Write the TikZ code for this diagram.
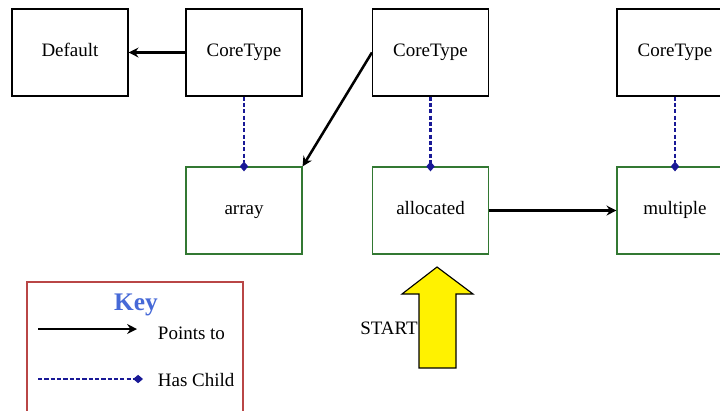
\documentclass[tikz,border=0pt]{standalone}
\usepackage{fontspec}
\setmainfont{Liberation Serif}
\usetikzlibrary{arrows.meta,positioning}
\definecolor{childblue}{RGB}{25,25,150}
\definecolor{boxgreen}{RGB}{50,120,50}
\definecolor{keyred}{RGB}{185,70,70}
\definecolor{keyblue}{RGB}{70,105,215}
\tikzset{
	typebox/.style={draw=black,fill=white,line width=0.8pt,minimum width=2.9cm,minimum height=2.175cm,
		text height=1.6ex,text depth=0.4ex,font=\fontsize{13.5}{16}\selectfont},
	kindbox/.style={typebox,draw=boxgreen},
	pointsto/.style={-{Stealth[width=7pt,length=7pt]},color=black,line width=1.8pt},
	haschild/.style={-{Diamond[width=6pt,length=7pt]},color=childblue,dash pattern=on 3pt off 1.5pt,line width=0.8pt,shorten >=-3.5pt},
	keytext/.style={font=\fontsize{13.5}{16}\selectfont,anchor=west}
}
\begin{document}
\begin{tikzpicture}[x=0.025cm,y=-0.025cm]
	\useasboundingbox (0,0) rectangle (720,410);
	%%%% core types
	\node[typebox] (def) at (70,52.5) {Default};
	\node[typebox] (ct1) at (244,52.5) {CoreType};
	\node[typebox] (ct2) at (430.5,52.5) {CoreType};
	\node[typebox] (ct3) at (675,52.5) {CoreType};
	
	%%%% children
	\node[kindbox] (arr) at (244,210.5) {array};
	\node[kindbox] (alloc) at (430.5,210.5) {allocated};
	\node[kindbox] (mult) at (675,210.5) {multiple};
	
	\draw[pointsto] (ct1) -- (def);
	\draw[pointsto] (ct2.west) -- (arr.north east);
	\draw[pointsto] (alloc) -- (mult);
	\draw[haschild] (ct1) -- (arr);
	\draw[haschild,line width=1.8pt] (ct2) -- (alloc);
	\draw[haschild] (ct3) -- (mult);
	
	%%%% start arrow
	\draw[fill=yellow,line width=0.8pt] (437,267) -- (473,294) -- (456,294) -- (456,368)
		-- (419,368) -- (419,294) -- (402,294) -- cycle;
	\node[font=\fontsize{13.5}{16}\selectfont,anchor=east,inner sep=0pt] (start) at (418,328) {START};
	
	%%%% key
	\node[draw=keyred,line width=0.8pt,minimum width=5.4cm,minimum height=3.5cm] (key) at (135,352) {};
	\node[font=\bfseries\fontsize{18}{20}\selectfont,text=keyblue] (keylbl) at (136,305) {Key};
	\coordinate (pa) at (38,329);
	\coordinate (pb) at (137,329);
	\draw[pointsto] (pa) -- (pb);
	\node[keytext] (ptxt) at (153,333) {Points to};
	\coordinate (ca) at (38,379);
	\coordinate (cb) at (143,379);
	\draw[haschild,line width=1.4pt,shorten >=0pt] (ca) -- (cb);
	\node[keytext] (ctxt) at (153,380) {Has Child};
\end{tikzpicture}
\end{document}
